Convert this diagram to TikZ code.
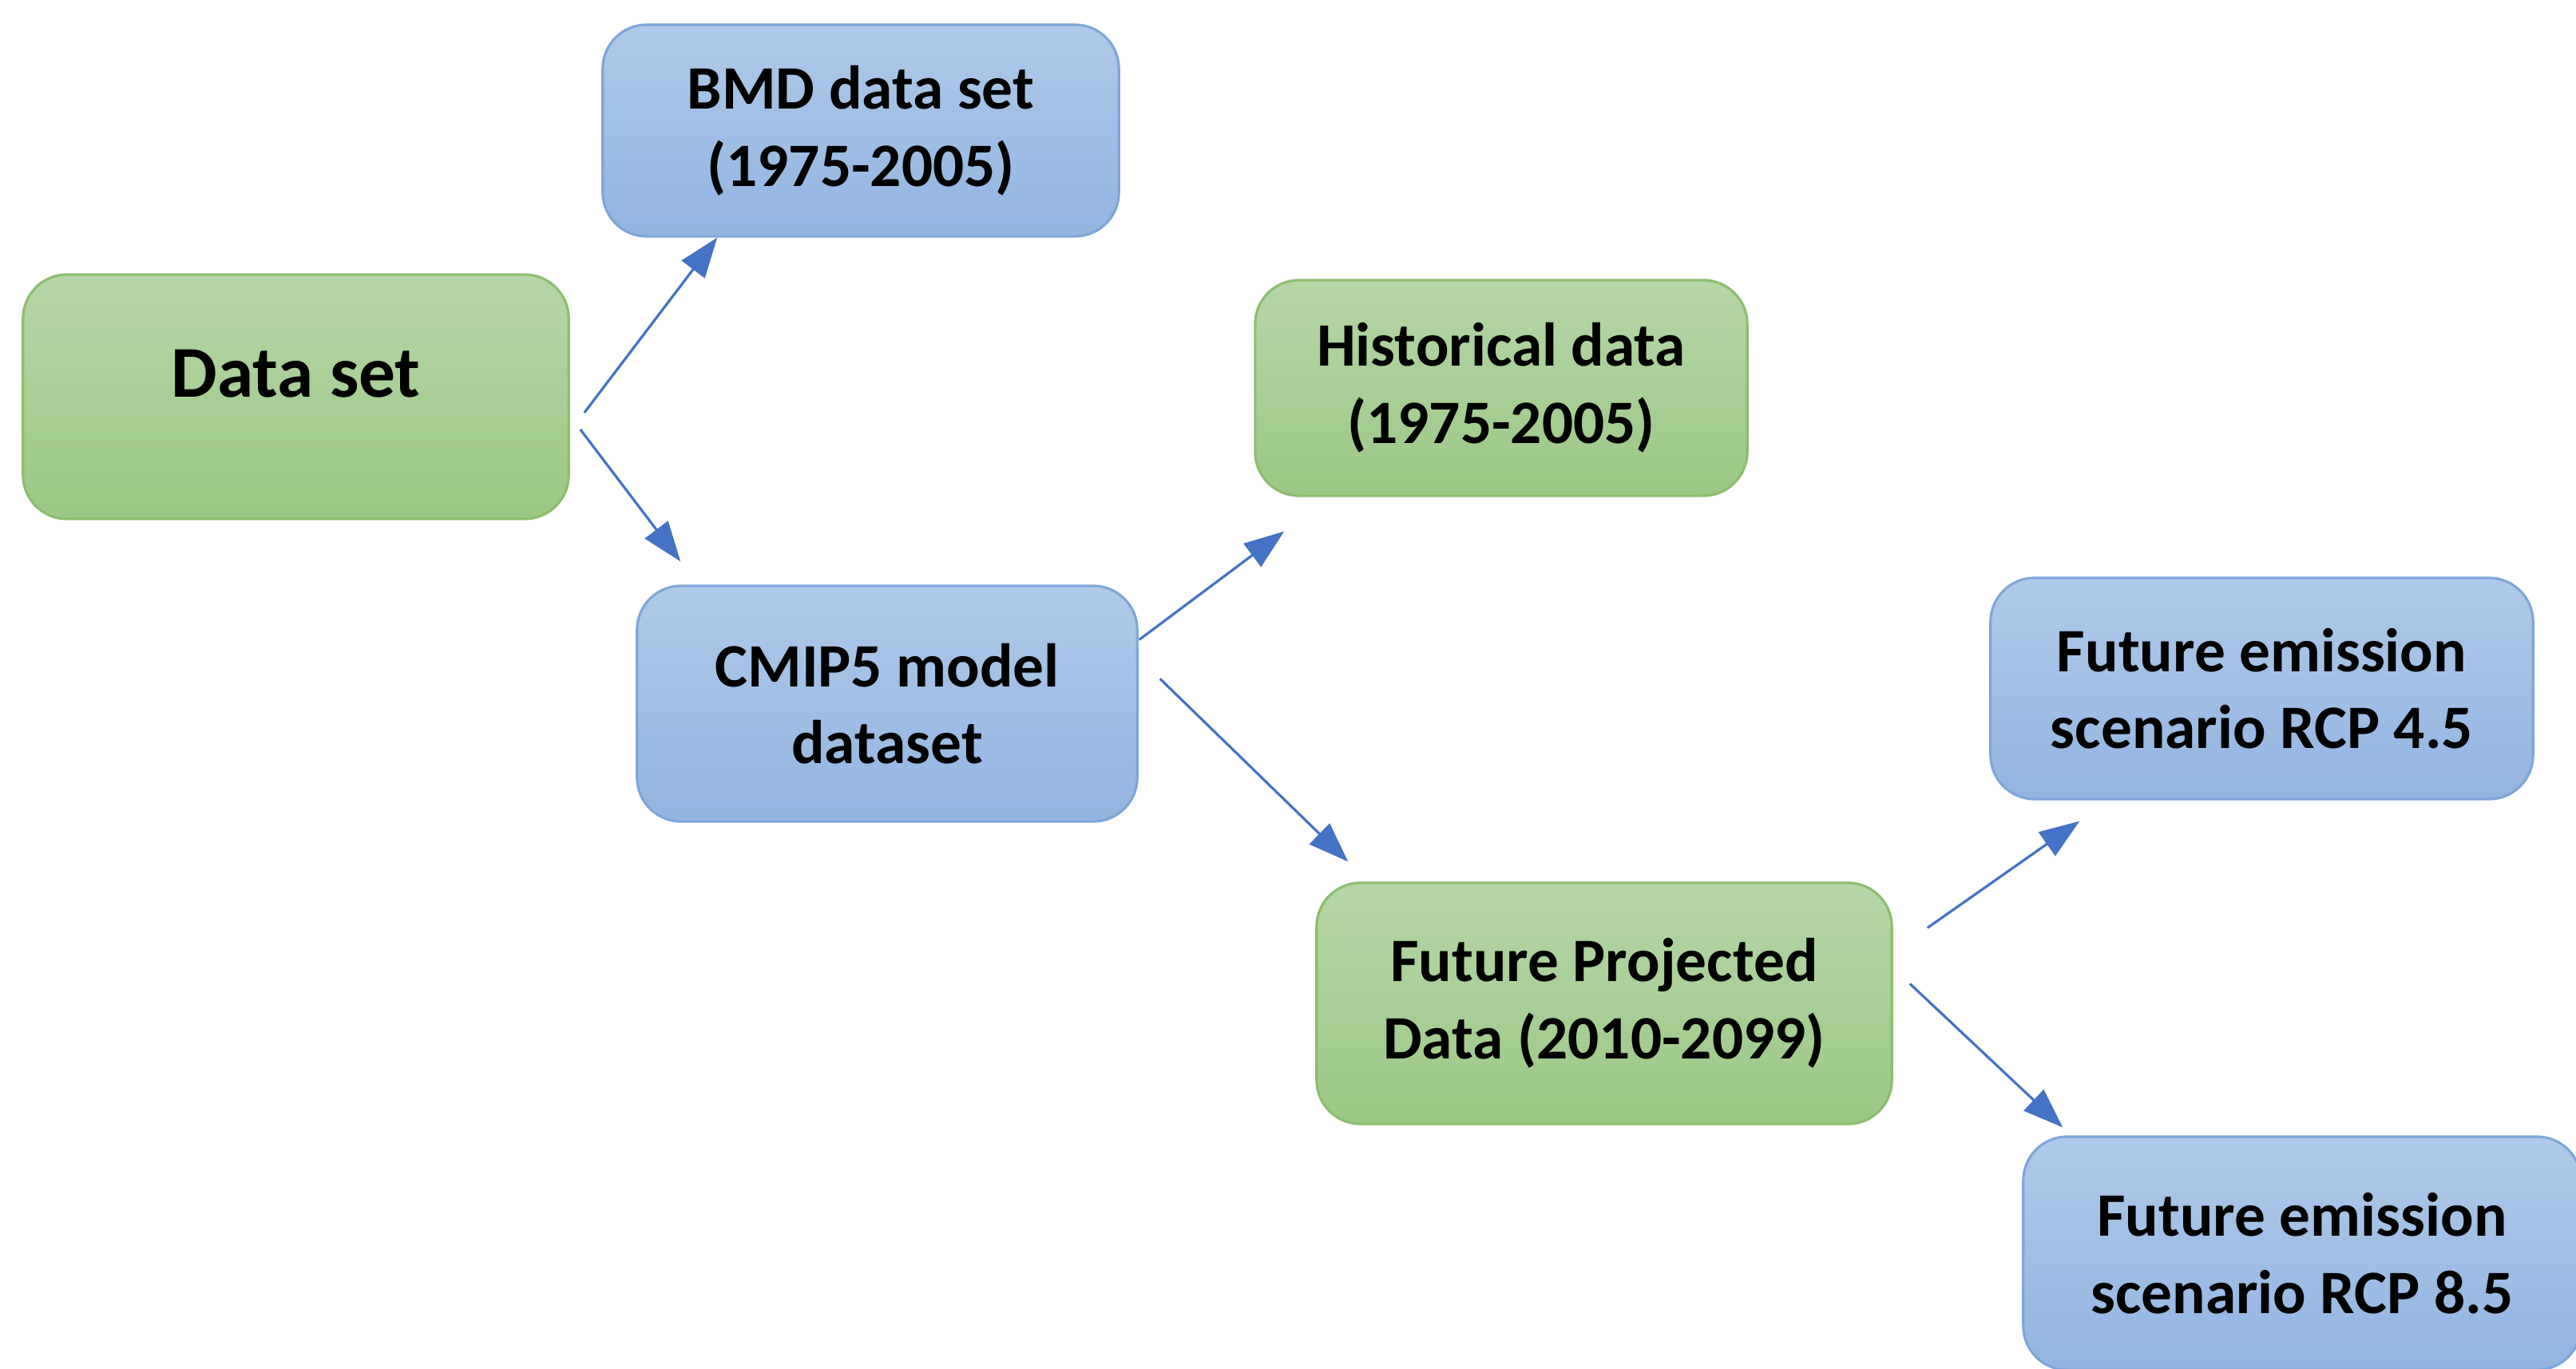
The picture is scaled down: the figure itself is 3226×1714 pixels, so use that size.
\documentclass[tikz,border=0pt]{standalone}
\usepackage{fontspec}
\setmainfont{Carlito}
\usetikzlibrary{arrows.meta,shadings}
\definecolor{gtop}{HTML}{B5D6A6}
\definecolor{gbot}{HTML}{9CC886}
\definecolor{gline}{HTML}{8DBD6F}
\definecolor{btop}{HTML}{AFC9E9}
\definecolor{bbot}{HTML}{92B5E1}
\definecolor{bline}{HTML}{7EA6D8}
\definecolor{arr}{HTML}{4472C4}
\tikzset{
  boxbase/.style={rectangle, rounded corners=0.55cm, line width=0.9pt, align=center,
    font=\bfseries\fontsize{22}{27.5}\selectfont, inner sep=0pt},
  greenbox/.style={boxbase, draw=gline, top color=gtop, bottom color=gbot},
  bluebox/.style={boxbase, draw=bline, top color=btop, bottom color=bbot},
  flow/.style={draw=arr, line width=0.9pt, -{Triangle[length=0.5cm,width=0.36cm]}}
}
\begin{document}
\begin{tikzpicture}[x=0.01cm, y=-0.01cm]
\useasboundingbox (0,0) rectangle (3226,1714);
\fill[white] (0,0) rectangle (3226,1714);

\node[greenbox, minimum width=6.83cm, minimum height=3.06cm,
      font=\bfseries\fontsize{26}{31}\selectfont, text height=0.6cm, text depth=0.6cm]
  (ds) at (370.5,497) {Data set};
\node[bluebox, minimum width=6.46cm, minimum height=2.65cm] (bmd) at (1078,163.5)
  {BMD data set\\(1975-2005)};
\node[bluebox, minimum width=6.26cm, minimum height=2.95cm] (cmip) at (1111,881.5)
  {CMIP5 model\\dataset};
\node[greenbox, minimum width=6.16cm, minimum height=2.70cm] (hist) at (1880,486)
  {Historical data\\(1975-2005)};
\node[greenbox, minimum width=7.20cm, minimum height=3.02cm] (fut) at (2009,1257)
  {Future Projected\\Data (2010-2099)};
\node[bluebox, minimum width=6.79cm, minimum height=2.77cm] (rcpa) at (2832.5,862.5)
  {Future emission\\scenario RCP 4.5};
\node[bluebox, minimum width=6.98cm, minimum height=2.92cm] (rcpb) at (2883,1570)
  {Future emission\\scenario RCP 8.5};

\coordinate (a1s) at ([shift={(18,20)}]ds.east);
\coordinate (a1e) at ([shift={(145,0)}]bmd.south west);
\coordinate (a2s) at ([shift={(13,41)}]ds.east);
\coordinate (a2e) at ([shift={(56,-29)}]cmip.north west);
\coordinate (a3s) at ([shift={(1,69)}]cmip.north east);
\coordinate (a3e) at ([shift={(38,43)}]hist.south west);
\coordinate (a4s) at ([shift={(27,118)}]cmip.north east);
\coordinate (a4e) at ([shift={(41,-25)}]fut.north west);
\coordinate (a5s) at ([shift={(43,58)}]fut.north east);
\coordinate (a5e) at ([shift={(113,26)}]rcpa.south west);
\coordinate (a6s) at ([shift={(21,128)}]fut.north east);
\coordinate (a6e) at ([shift={(51,-10)}]rcpb.north west);

\draw[flow] (a1s) -- (a1e);
\draw[flow] (a2s) -- (a2e);
\draw[flow] (a3s) -- (a3e);
\draw[flow] (a4s) -- (a4e);
\draw[flow] (a5s) -- (a5e);
\draw[flow] (a6s) -- (a6e);
\end{tikzpicture}
\end{document}
